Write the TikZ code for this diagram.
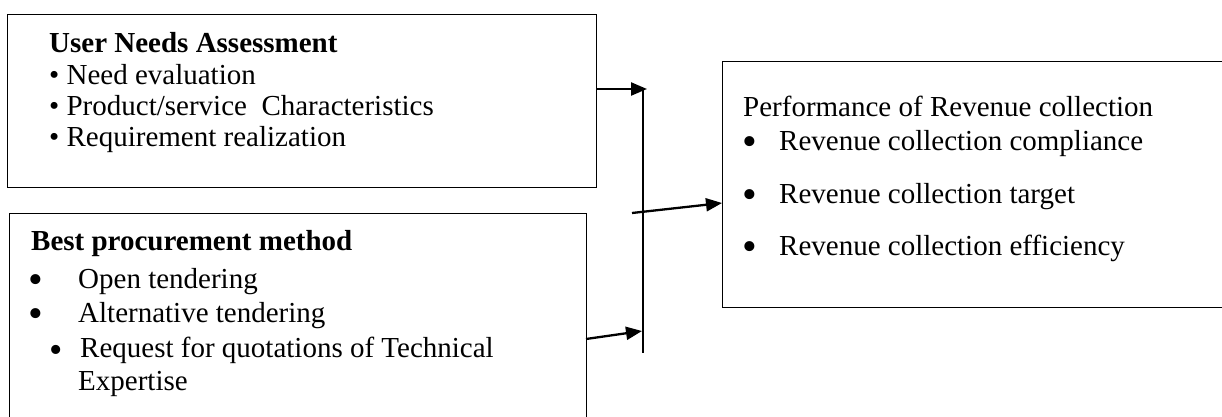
\documentclass[tikz,border=0pt]{standalone}
\usepackage{fontspec}
\setmainfont{Liberation Serif}
\usetikzlibrary{arrows.meta}
\begin{document}
\begin{tikzpicture}[x=1pt,y=-1pt,
 boxline/.style={draw, line width=1.4pt, inner sep=0pt, anchor=north west},
 txt/.style={anchor=base west, inner sep=0pt, font=\fontsize{29}{33}\selectfont},
 ttl/.style={txt, font=\fontsize{29}{33}\selectfont\bfseries},
 bigbul/.style={anchor=base, inner sep=0pt, text height=16pt, text depth=0pt, font=\fontsize{42}{42}\selectfont},
 midbul/.style={anchor=base, inner sep=0pt, text height=14pt, text depth=0pt, font=\fontsize{38}{38}\selectfont},
 conn/.style={line width=2.3pt, -{Triangle[length=16pt,width=13pt]}},
 busline/.style={line width=2.3pt}]
\useasboundingbox (0,0) rectangle (1222,416);
\begin{scope}
\clip (0,0) rectangle (1222,416);
% boxes (box2 and box3 run past the picture's edge)
\node[boxline, minimum width=589pt, minimum height=173pt] (box1) at (7,14) {};
\node[boxline, minimum width=577pt, minimum height=240pt] (box2) at (9,213) {};
\node[boxline, minimum width=540pt, minimum height=246pt] (box3) at (722,61) {};
\end{scope}
% box 1 text
\node[ttl] (t1) at (49,52) {User Needs Assessment};
\node[txt] (t1a) at (49,84) {• Need evaluation};
\node[txt] (t1b) at (49,115) {• Product/service\ \ Characteristics};
\node[txt] (t1c) at (49,146) {• Requirement realization};
% box 2 text
\node[ttl] (t2) at (31,250) {Best procurement method};
\node[bigbul] (b2a) at (36,293) {•};
\node[txt] (t2a) at (78,288) {Open tendering};
\node[bigbul] (b2b) at (36,327) {•};
\node[txt] (t2b) at (78,322) {Alternative tendering};
\node[midbul] (b2c) at (56,362) {•};
\node[txt] (t2c) at (80,357) {Request for quotations of Technical};
\node[txt] (t2d) at (78,390) {Expertise};
% box 3 text
\node[txt] (t3) at (743,116) {Performance of Revenue collection};
\node[bigbul] (b3a) at (750,155) {•};
\node[txt] (t3a) at (779,150) {Revenue collection compliance};
\node[bigbul] (b3b) at (750,208) {•};
\node[txt] (t3b) at (779,203) {Revenue collection target};
\node[bigbul] (b3c) at (750,260) {•};
\node[txt] (t3c) at (779,255) {Revenue collection efficiency};
% connectors
\coordinate (bustop) at (643,89);
\coordinate (busbot) at (643,353);
\coordinate (tip1) at (647,89);
\coordinate (src2) at (632,213);
\coordinate (in3) at (722,203);
\coordinate (tip3) at (642,331);
\coordinate (out2) at (586,339);
\draw[busline] (bustop) -- (busbot);
\draw[conn] (box1.east |- tip1) -- (tip1);
\draw[conn] (src2) -- (in3);
\draw[conn] (out2) -- (tip3);
\end{tikzpicture}
\end{document}
